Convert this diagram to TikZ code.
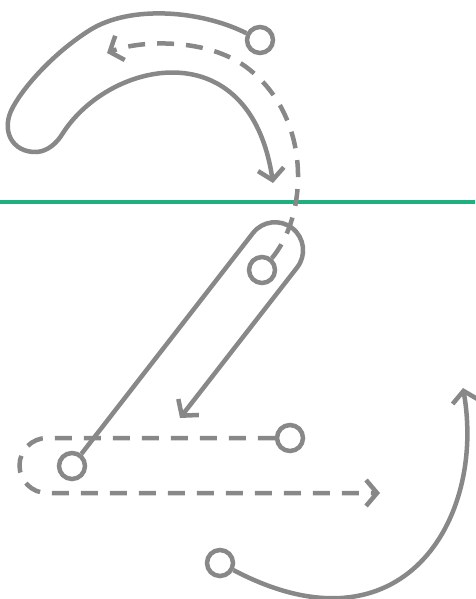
\documentclass[tikz,border=0pt]{standalone}
\usepackage{xcolor}
\usepackage{tikz}
\usetikzlibrary{arrows.meta}
\definecolor{guidegray}{RGB}{136, 136, 136}
\definecolor{baseline}{RGB}{32, 176, 128}

\tikzset{
  guide line/.style={draw=guidegray, line width=4.5pt},
  guide dash/.style={guide line, dash pattern=on 17pt off 12pt},
  start dot/.style={circle, draw=guidegray, line width=4.5pt, minimum size=26pt, inner sep=0pt},
  guide tip/.style={-{Straight Barb[length=11pt, width=26pt]}}
}

\begin{document}
\begin{tikzpicture}[x=1pt, y=-1pt]
          \useasboundingbox (0, 0) rectangle (475, 599);

          % Baseline
          \draw[draw=baseline, line width=4.5pt] (0, 202) -- (475, 202);

          % Start dots
          \node[start dot] (top) at (260, 40) {};
          \node[start dot] (mid) at (262, 270) {};
          \node[start dot] (low) at (72, 466) {};
          \node[start dot] (tail) at (290, 438) {};
          \node[start dot] (hook) at (220, 563) {};

          % Stroke 1: the curved head
          \draw[guide line, guide tip] (top) .. controls (200, 10) and (130, 5) .. (90, 30)
                .. controls (55, 52) and (25, 85) .. (13, 107)
                .. controls (0, 130) and (12, 153) .. (37, 152)
                .. controls (48, 151) and (57, 143) .. (63, 133)
                .. controls (110, 60) and (250, 30) .. (273, 183);
          \draw[guide dash, guide tip] (mid) .. controls (308, 215) and (312, 120) .. (250, 70)
                .. controls (210, 37) and (140, 40) .. (107, 53);

          % Stroke 2: the diagonal
          \draw[guide line, guide tip] (low) -- (253, 233)
                arc[start angle=218, end angle=398, radius=28] -- (180, 418);

          % Stroke 3: the foot
          \draw[guide dash, guide tip] (tail) -- (47, 438)
                arc[start angle=270, end angle=90, radius=27.5] -- (380, 493);

          % Stroke 4: the round return
          \draw[guide line, guide tip] (hook) .. controls (402, 659) and (486, 520) .. (463, 388);
\end{tikzpicture}
\end{document}
